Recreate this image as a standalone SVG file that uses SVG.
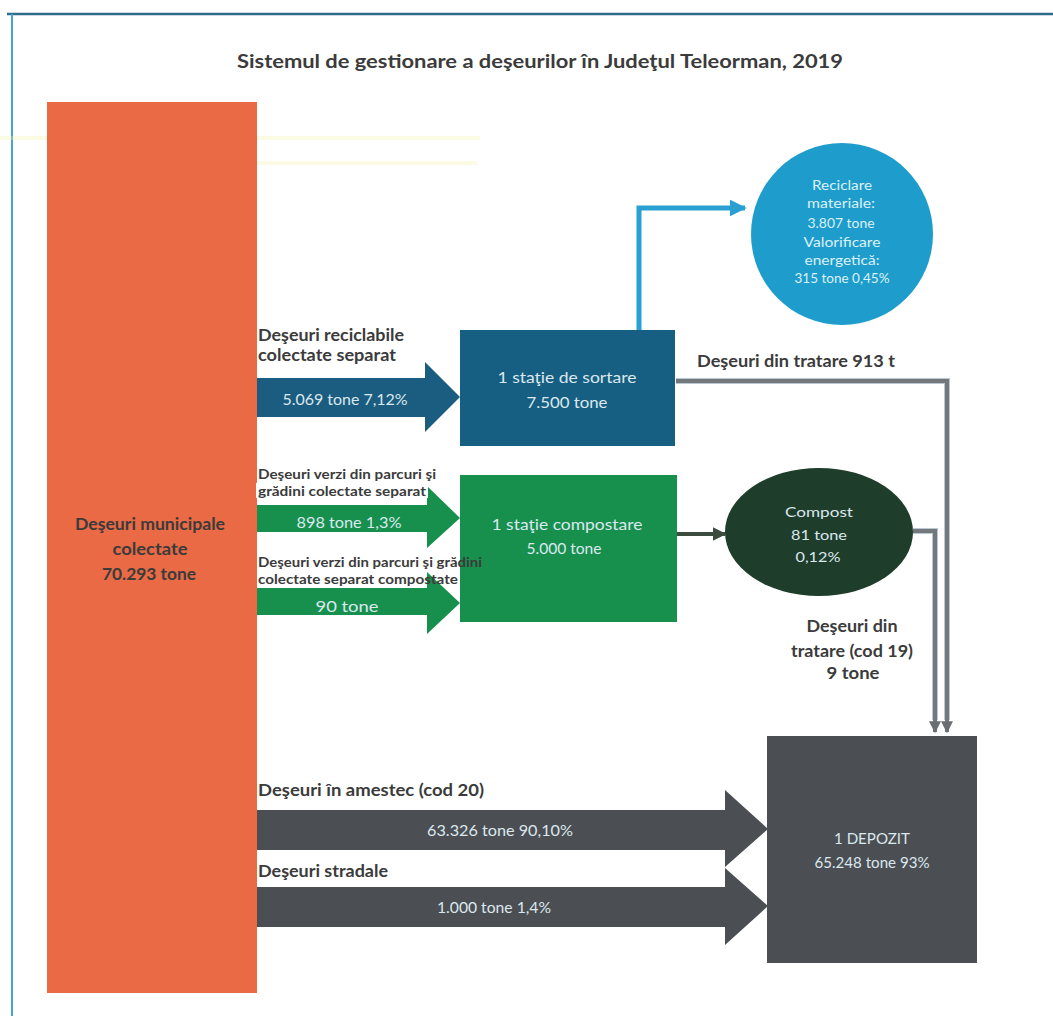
<svg xmlns="http://www.w3.org/2000/svg" width="1053" height="1016" viewBox="0 0 1053 1016">
<defs>
<style>
.lbl{font-family:Lato,"Open Sans","Liberation Sans",sans-serif;font-weight:bold;fill:#3b3b3b}
.lt{font-family:Lato,"Open Sans","Liberation Sans",sans-serif;fill:#dbe8ee}
.ctr{text-anchor:middle}
.gray{fill:none;stroke:#74787c;stroke-width:4}
.grayo{fill:none;stroke:#b9c9d2;stroke-width:6}
.ci{font-size:13.5px;fill:#dcf0f7}
</style>
<marker id="ah" viewBox="0 0 10 10" refX="9" refY="5" markerWidth="3" markerHeight="3" orient="auto" markerUnits="strokeWidth">
<path d="M0,0 L10,5 L0,10 z" fill="#6b6f73"/>
</marker>
<marker id="ahb" viewBox="0 0 10 10" refX="9" refY="5" markerWidth="3.4" markerHeight="3.4" orient="auto" markerUnits="strokeWidth">
<path d="M0,0 L10,5 L0,10 z" fill="#2aa0d2"/>
</marker>
<marker id="ahg" viewBox="0 0 10 10" refX="9" refY="5" markerWidth="3.4" markerHeight="3.4" orient="auto" markerUnits="strokeWidth">
<path d="M0,0 L10,5 L0,10 z" fill="#3c4d40"/>
</marker>
</defs>
<rect width="1053" height="1016" fill="#ffffff"/>
<g id="frame">
<line x1="7" y1="14" x2="1053" y2="14" stroke="#2f6c8b" stroke-width="2.5"/>
<line x1="12" y1="14" x2="12" y2="1016" stroke="#4aa6c8" stroke-width="2"/>
<rect x="0" y="136" width="480" height="4" fill="#f3f0a0" opacity="0.3"/>
<rect x="257" y="161" width="220" height="4" fill="#f3f0a0" opacity="0.3"/>
</g>
<text id="title" class="lbl ctr" x="540" y="68" font-size="19" fill="#444" textLength="606" lengthAdjust="spacingAndGlyphs">Sistemul de gestionare a deşeurilor în Judeţul Teleorman, 2019</text>

<g id="connectors">
<polyline points="639,330 639,208 745,208" fill="none" stroke="#2aa0d2" stroke-width="5" marker-end="url(#ahb)"/>
<polyline class="grayo" points="676,381 947,381 947,720"/>
<polyline class="gray" points="676,381 947,381 947,732" marker-end="url(#ah)"/>
<polyline class="grayo" points="913,531 935,531 935,720"/>
<polyline class="gray" points="913,531 935,531 935,732" marker-end="url(#ah)"/>
<line x1="677" y1="534" x2="725" y2="534" stroke="#3c4d40" stroke-width="4" marker-end="url(#ahg)"/>
</g>

<g id="municipal">
<rect x="47" y="102" width="210" height="891" fill="#e96a44"/>
<text class="lbl ctr" x="150" y="530" font-size="17" fill="#3a2a28" textLength="150" lengthAdjust="spacingAndGlyphs">Deşeuri municipale</text>
<text class="lbl ctr" x="150" y="555" font-size="17" fill="#3a2a28" textLength="75" lengthAdjust="spacingAndGlyphs">colectate</text>
<text class="lbl ctr" x="149" y="580" font-size="17" fill="#3a2a28" textLength="94" lengthAdjust="spacingAndGlyphs">70.293 tone</text>
</g>

<g id="flow-reciclabile">
<text class="lbl" x="258" y="341" font-size="17" textLength="146" lengthAdjust="spacingAndGlyphs">Deşeuri reciclabile</text>
<text class="lbl" x="258" y="361" font-size="17" textLength="138" lengthAdjust="spacingAndGlyphs">colectate separat</text>
<polygon points="257,378 425,378 425,362 460,397 425,432 425,417 257,417" fill="#1a5d80"/>
<text class="lt ctr" x="345" y="405" font-size="15" textLength="125" lengthAdjust="spacingAndGlyphs">5.069 tone 7,12%</text>
</g>

<g id="sortare">
<rect x="460" y="330" width="215" height="116" fill="#165f82"/>
<text class="lt ctr" x="567" y="383" font-size="15" textLength="139" lengthAdjust="spacingAndGlyphs">1 staţie de sortare</text>
<text class="lt ctr" x="567" y="408" font-size="15" textLength="81" lengthAdjust="spacingAndGlyphs">7.500 tone</text>
</g>

<g id="reciclare">
<circle cx="842" cy="234" r="91" fill="#1e9dcc"/>
<text class="lt ci ctr" x="842" y="190" textLength="60" lengthAdjust="spacingAndGlyphs">Reciclare</text>
<text class="lt ci ctr" x="841" y="208" textLength="68" lengthAdjust="spacingAndGlyphs">materiale:</text>
<text class="lt ci ctr" x="841" y="228" textLength="67" lengthAdjust="spacingAndGlyphs">3.807 tone</text>
<text class="lt ci ctr" x="842" y="247" textLength="77" lengthAdjust="spacingAndGlyphs">Valorificare</text>
<text class="lt ci ctr" x="842" y="265" textLength="75" lengthAdjust="spacingAndGlyphs">energetică:</text>
<text class="lt ci ctr" x="842" y="283" textLength="95" lengthAdjust="spacingAndGlyphs">315 tone 0,45%</text>
</g>

<text id="lbl-913" class="lbl" x="697" y="367" font-size="17" textLength="198" lengthAdjust="spacingAndGlyphs">Deşeuri din tratare  913 t</text>

<g id="flow-verzi">
<polygon points="257,505 427,505 427,486 460,518 427,548 427,532 257,532" fill="#17904e"/>
<text class="lbl" x="258" y="479" font-size="14" textLength="178" lengthAdjust="spacingAndGlyphs">Deşeuri verzi din parcuri şi</text>
<rect x="256" y="483" width="172" height="15" fill="#ffffff"/>
<text class="lbl" x="258" y="496" font-size="14" textLength="168" lengthAdjust="spacingAndGlyphs">grădini colectate separat</text>
<text class="lt ctr" x="349" y="528" font-size="15" fill="#d6ecc6" textLength="105" lengthAdjust="spacingAndGlyphs">898  tone 1,3%</text>
</g>

<g id="flow-verzi-comp">
<polygon points="257,588 427,588 427,572 460,603 427,634 427,615 257,615" fill="#17904e"/>
<text class="lt ctr" x="347" y="612" font-size="15" fill="#d6ecc6" textLength="63" lengthAdjust="spacingAndGlyphs">90  tone</text>
</g>

<g id="compostare">
<rect x="460" y="475" width="217" height="147" fill="#17904e"/>
<text class="lt ctr" x="567" y="530" font-size="15" fill="#d6ecb4" textLength="151" lengthAdjust="spacingAndGlyphs">1 staţie compostare</text>
<text class="lt ctr" x="564" y="554" font-size="15" fill="#d6ecb4" textLength="75" lengthAdjust="spacingAndGlyphs">5.000 tone</text>
</g>
<g id="lbl-verzi-comp">
<text class="lbl" x="258" y="567" font-size="14" textLength="224" lengthAdjust="spacingAndGlyphs">Deşeuri verzi din parcuri şi grădini</text>
<text class="lbl" x="258" y="584" font-size="14" textLength="200" lengthAdjust="spacingAndGlyphs">colectate separat  compostate</text>
</g>

<g id="compost">
<ellipse cx="819" cy="532" rx="94" ry="64" fill="#1f3d2b"/>
<text class="lt ctr" x="819" y="517" font-size="14" fill="#dfe4a8" textLength="68" lengthAdjust="spacingAndGlyphs">Compost</text>
<text class="lt ctr" x="819" y="540" font-size="14" fill="#dfe4a8" textLength="56" lengthAdjust="spacingAndGlyphs">81 tone</text>
<text class="lt ctr" x="818" y="562" font-size="13" fill="#dfe4a8" textLength="45" lengthAdjust="spacingAndGlyphs">0,12%</text>
</g>

<g id="lbl-cod19">
<text class="lbl ctr" x="852" y="632" font-size="17" textLength="91" lengthAdjust="spacingAndGlyphs">Deşeuri din</text>
<text class="lbl ctr" x="852" y="657" font-size="17" textLength="122" lengthAdjust="spacingAndGlyphs">tratare (cod 19)</text>
<text class="lbl ctr" x="853" y="679" font-size="17" textLength="53" lengthAdjust="spacingAndGlyphs">9 tone</text>
</g>

<g id="flow-amestec">
<text class="lbl" x="258" y="796" font-size="17" textLength="226" lengthAdjust="spacingAndGlyphs">Deşeuri în amestec (cod 20)</text>
<polygon points="257,810 725,810 725,790 768,829 725,867 725,850 257,850" fill="#4b4e53"/>
<text class="lt ctr" x="500" y="836" font-size="15" fill="#e0e4e6" textLength="146" lengthAdjust="spacingAndGlyphs">63.326 tone 90,10%</text>
</g>

<g id="flow-stradale">
<text class="lbl" x="258" y="877" font-size="17" textLength="130" lengthAdjust="spacingAndGlyphs">Deşeuri stradale</text>
<polygon points="257,887 725,887 725,868 768,906 725,945 725,927 257,927" fill="#4b4e53"/>
<text class="lt ctr" x="494" y="913" font-size="15" fill="#e0e4e6" textLength="114" lengthAdjust="spacingAndGlyphs">1.000 tone  1,4%</text>
</g>

<g id="depozit">
<rect x="767" y="736" width="210" height="227" fill="#4b4e53"/>
<text class="lt ctr" x="872" y="844" font-size="15" fill="#e0e4e6" textLength="76" lengthAdjust="spacingAndGlyphs">1 DEPOZIT</text>
<text class="lt ctr" x="872" y="868" font-size="15" fill="#e0e4e6" textLength="115" lengthAdjust="spacingAndGlyphs">65.248 tone 93%</text>
</g>
</svg>
